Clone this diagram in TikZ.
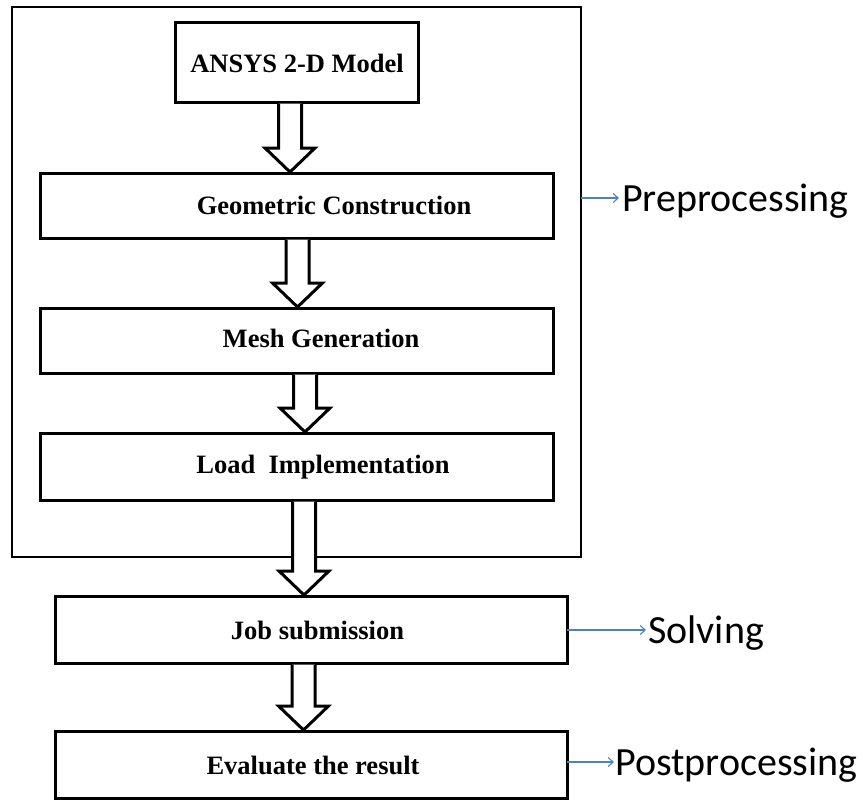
\documentclass[tikz,border=0pt]{standalone}
\usepackage{fontspec}
\setmainfont{Liberation Serif}
\newfontfamily\calib{Carlito}
\usetikzlibrary{calc,arrows.meta}
\definecolor{lblue}{RGB}{79,129,189}
\newcommand\blockarr[3]{%
  \draw[barrow] let \p1=(#1.south), \p2=(#2.north) in
   (#3pt-11.5pt,\y1-1.7pt) -- (#3pt-11.5pt,\y2+25pt) -- (#3pt-25pt,\y2+25pt)
   -- (#3pt,\y2+1pt) -- (#3pt+25pt,\y2+25pt) -- (#3pt+11.5pt,\y2+25pt)
   -- (#3pt+11.5pt,\y1-1.7pt);}
\begin{document}
\begin{tikzpicture}[x=1pt,y=-1pt,
  box/.style={draw,line width=3pt,outer sep=0pt,inner sep=0pt},
  btext/.style={font=\bfseries\fontsize{26.5}{30}\selectfont,inner sep=0pt},
  barrow/.style={draw,line width=3pt,fill=white,line join=miter},
  lbl/.style={font=\calib\fontsize{40}{46}\selectfont,inner sep=0pt,anchor=base west},
  blue arrow/.style={draw=lblue,line width=1.1pt,-{Straight Barb[length=5pt,width=9pt]}}]
\useasboundingbox (0,0) rectangle (863,801);
\fill[white] (0,0) rectangle (863,801);
% outer frame
\node[box,line width=2.2pt,minimum width=569,minimum height=550] (frame) at (296.5,282) {};
% boxes
\node[box,fill=white,minimum width=243,minimum height=80] (ansys) at (296.5,62) {};
\node[btext] (ansysT) at (297,63) {ANSYS 2-D Model};
\node[box,minimum width=513,minimum height=65] (geo) at (296.5,205.5) {};
\node[btext] (geoT) at (334,205) {Geometric Construction};
\node[box,minimum width=513,minimum height=65] (mesh) at (296.5,340.5) {};
\node[btext] (meshT) at (321,338) {Mesh Generation};
\node[box,minimum width=513,minimum height=67] (load) at (296.5,466.5) {};
\node[btext] (loadT) at (323,467) {Load\ \ Implementation};
\node[box,minimum width=512,minimum height=67] (job) at (311,629.5) {};
\node[btext] (jobT) at (317.5,630) {Job submission};
\node[box,minimum width=512,minimum height=67] (eval) at (311,764.5) {};
\node[btext] (evalT) at (313,765) {Evaluate the result};
% block arrows
\blockarr{ansys}{geo}{290}
\blockarr{geo}{mesh}{297.5}
\blockarr{mesh}{load}{305}
\blockarr{load}{job}{304}
\blockarr{job}{eval}{303.5}
% side labels
\node[lbl] (pre) at (622,211) {Preprocessing};
\node[lbl] (sol) at (648,643) {Solving};
\node[lbl] (post) at (615,775) {Postprocessing};
\coordinate (preA) at (619,198);
\coordinate (solA) at (646,630);
\coordinate (postA) at (614,762);
\draw[blue arrow] (frame.east |- preA) -- (preA);
\draw[blue arrow] (job.east |- solA) -- (solA);
\draw[blue arrow] (eval.east |- postA) -- (postA);
\end{tikzpicture}
\end{document}
